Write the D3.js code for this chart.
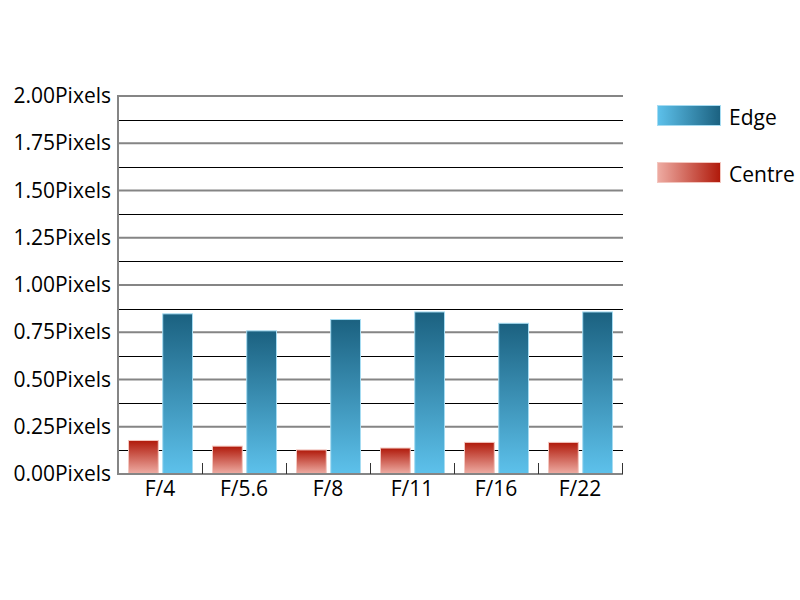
<!DOCTYPE html>
<html>
<head>
<meta charset="utf-8">
<script src="https://cdn.jsdelivr.net/npm/d3@7"></script>
<style>
html,body{margin:0;padding:0;background:#fff;}
svg{display:block;font-family:"Open Sans",sans-serif;}
</style>
</head>
<body>
<svg id="chart" width="800" height="600"></svg>
<script>
const categories = ["F/4","F/5.6","F/8","F/11","F/16","F/22"];
const seriesNames = ["Centre","Edge"];
const centreValues = [0.18,0.15,0.13,0.14,0.17,0.17];
const edgeValues = [0.85,0.76,0.82,0.86,0.80,0.86];
const yTicks = [0,0.25,0.5,0.75,1,1.25,1.5,1.75,2];
const yMinorTicks = [0.125,0.375,0.625,0.875,1.125,1.375,1.625,1.875];
const legendOrder = ["Edge","Centre"];

const svg = d3.select("#chart");
const pLeft = 118, pRight = 622, pTop = 96, pBottom = 474;

const x = d3.scaleBand().domain(categories).range([pLeft,pRight]).paddingInner(0).paddingOuter(0);
const xs = d3.scaleBand().domain(seriesNames).range([10,75]).paddingInner(0.1);
const y = d3.scaleLinear().domain([0,2]).range([pBottom,pTop]);

const defs = svg.append("defs");
function grad(id, c1, c2, vertical){
  const g = defs.append("linearGradient").attr("id",id)
    .attr("x1",0).attr("y1",0).attr("x2",vertical?0:1).attr("y2",vertical?1:0);
  g.append("stop").attr("offset","0%").attr("stop-color",c1);
  g.append("stop").attr("offset","100%").attr("stop-color",c2);
}
grad("gEdge","#1b6180","#5dc1eb",true);
grad("gCentre","#b0190a","#eeaca3",true);
grad("gEdgeL","#5dc1eb","#1b6180",false);
grad("gCentreL","#eeaca3","#b0190a",false);
const fills = {Edge:"url(#gEdge)",Centre:"url(#gCentre)"};
const strokes = {Edge:"#a6dcf2",Centre:"#f3c6bf"};
const legendFills = {Edge:"url(#gEdgeL)",Centre:"url(#gCentreL)"};

// minor gridlines
svg.append("g").selectAll("line").data(yMinorTicks).join("line")
  .attr("x1",pLeft).attr("x2",pRight+1)
  .attr("y1",d=>Math.round(y(d))+0.5).attr("y2",d=>Math.round(y(d))+0.5)
  .attr("stroke","#000").attr("stroke-width",1);
// major gridlines
svg.append("g").selectAll("line").data(yTicks.slice(1)).join("line")
  .attr("x1",pLeft).attr("x2",pRight+1)
  .attr("y1",d=>y(d)).attr("y2",d=>y(d))
  .attr("stroke","#858585").attr("stroke-width",2);

// bars
const data = [];
categories.forEach((c,i)=>{
  data.push({cat:c,s:"Centre",v:centreValues[i]});
  data.push({cat:c,s:"Edge",v:edgeValues[i]});
});
svg.append("g").selectAll("rect").data(data).join("rect")
  .attr("x",d=>x(d.cat)+xs(d.s)+0.5)
  .attr("y",d=>y(d.v)+0.5)
  .attr("width",xs.bandwidth()-1)
  .attr("height",d=>pBottom-y(d.v)-1)
  .attr("fill",d=>fills[d.s])
  .attr("stroke",d=>strokes[d.s])
  .attr("stroke-width",1);

// axes lines
svg.append("line").attr("x1",pLeft).attr("x2",pLeft).attr("y1",pTop-1).attr("y2",pBottom+1)
  .attr("stroke","#858585").attr("stroke-width",2);
svg.append("line").attr("x1",pLeft).attr("x2",pRight+1).attr("y1",pBottom).attr("y2",pBottom)
  .attr("stroke","#858585").attr("stroke-width",2);

// x ticks at band boundaries
svg.append("g").selectAll("line").data(categories).join("line")
  .attr("x1",d=>x(d)+x.bandwidth()+0.5).attr("x2",d=>x(d)+x.bandwidth()+0.5)
  .attr("y1",pBottom-11).attr("y2",pBottom)
  .attr("stroke","#333").attr("stroke-width",1);

// y labels
const yAxis = d3.axisLeft(y).tickValues(yTicks).tickSize(0).tickPadding(7)
  .tickFormat(d=>d3.format(".2f")(d)+"Pixels");
const ya = svg.append("g").attr("transform",`translate(${pLeft},0)`).call(yAxis);
ya.select(".domain").remove();
ya.selectAll("text").attr("font-size",21).attr("font-family","'Open Sans',sans-serif").attr("fill","#000");

// x labels
const xAxis = d3.axisBottom(x).tickSize(0).tickPadding(7);
const xa = svg.append("g").attr("transform",`translate(0,${pBottom})`).call(xAxis);
xa.select(".domain").remove();
xa.selectAll("text").attr("font-size",21).attr("font-family","'Open Sans',sans-serif").attr("fill","#000");

// legend
const lg = svg.append("g").selectAll("g").data(legendOrder).join("g")
  .attr("transform",(d,i)=>`translate(657,${105+i*57})`);
lg.append("rect").attr("x",0.5).attr("y",0.5).attr("width",63).attr("height",20)
  .attr("fill",d=>legendFills[d]).attr("stroke",d=>strokes[d]).attr("stroke-width",1);
lg.append("text").attr("x",72).attr("y",20).attr("font-size",21).attr("fill","#000").text(d=>d);
</script>
</body>
</html>
